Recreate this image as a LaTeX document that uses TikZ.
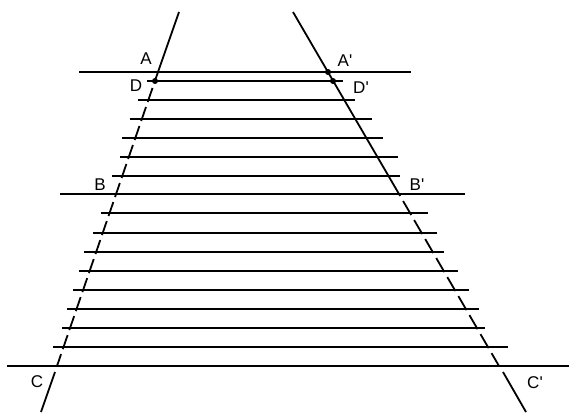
\documentclass[tikz,border=0pt]{standalone}
\usepackage{fontspec}
\setmainfont{Liberation Sans}
\usetikzlibrary{calc}

\begin{document}
\begin{tikzpicture}[x=1pt,y=-1pt,font=\fontsize{17}{17}\selectfont,
  rule/.style={line width=2.2pt},
  ray/.style={line width=1.8pt},
  gappedL/.style={ray,dash pattern=on 14.8pt off 5.3pt,dash phase=3.2pt},
  gappedR/.style={ray,dash pattern=on 16.2pt off 5.8pt,dash phase=13.9pt},
  pindot/.style={circle,fill=black,inner sep=0pt,minimum size=6pt},
  lbl/.style={inner sep=0pt}]
  \useasboundingbox (0,0) rectangle (569,412);
  % points on the two slanting lines
  \coordinate (Ltop) at (179,12);
  \coordinate (A) at (158,72);
  \coordinate (D) at (155,81);
  \coordinate (C) at (57,366);
  \coordinate (Cx) at (55,372);
  \coordinate (Lbot) at (41,412);
  \coordinate (Rtop) at (293,12);
  \coordinate (Ap) at (328,72);
  \coordinate (Dp) at (333,81);
  \coordinate (Bp) at (399,194);
  \coordinate (Cp) at (499,366);
  \coordinate (Cpx) at (503,372);
  \coordinate (Rbot) at (526,412);
  % horizontal rules
  \foreach \y/\xa/\xb in {72/79/411,81/147/343,100/138/355,119/130/372,
      138/122/383,157/120/398,176/112/400,194/60/465,213/101/428,
      233/93/437,252/84/444,271/79/458,290/73/469,309/67/479,
      328/62/485,347/53/508,366/7/569}
    \draw[rule] (\xa,\y) -- (\xb,\y);
  % left line
  \draw[ray] (Ltop) -- (A);
  \draw[gappedL] (A) -- (C);
  \draw[ray] (Cx) -- (Lbot);
  % right line
  \draw[ray] (Rtop) -- (Bp);
  \draw[gappedR] (Bp) -- (Cp);
  \draw[ray] (Cpx) -- (Rbot);
  \node[pindot] (dD) at (D) {};
  \node[pindot] (dAp) at (Ap) {};
  \node[pindot] (dDp) at (Dp) {};
  % letters
  \node[lbl] (tA) at (146,59) {A};
  \node[lbl] (tAp) at (345,61) {A\textquotesingle};
  \node[lbl] (tD) at (136,86) {D};
  \node[lbl] (tDp) at (361,88) {D\textquotesingle};
  \node[lbl] (tB) at (100,185) {B};
  \node[lbl] (tBp) at (417,185) {B\textquotesingle};
  \node[lbl] (tC) at (37,382) {C};
  \node[lbl] (tCp) at (535,383) {C\textquotesingle};
\end{tikzpicture}
\end{document}
